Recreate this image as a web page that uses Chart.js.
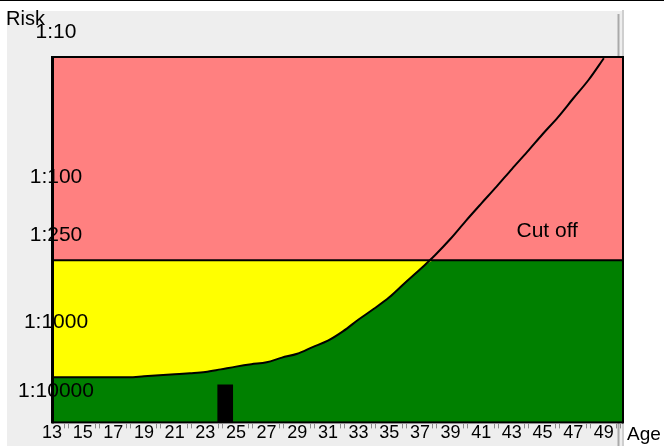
<!DOCTYPE html>
<html><head><meta charset="utf-8">
<script src="https://cdn.jsdelivr.net/npm/chart.js@4.4.0/dist/chart.umd.min.js"></script>
<style>html,body{margin:0;padding:0;background:#fff}#wrap{width:664px;height:446px;position:relative}</style>
</head><body><div id="wrap"><canvas id="c" width="664" height="446"></canvas></div>
<script>
// ---- data ----
const ages = [13,14,15,16,17,18,19,20,21,22,23,24,25,26,27,28,29,30,31,32,33,34,35,36,37,38,39,40,41,42,43,44,45,46,47,48,49];
const riskDenominators = [1600,1600,1600,1600,1600,1600,1575,1550,1525,1500,1470,1410,1350,1300,1260,1170,1100,990,895,770,640,540,450,360,290,230,178,134,102,78,59,45,34,26,19.3,14.4,10.2];
const cutoffRisk = 250;
const xTickLabels = ["13","15","17","19","21","23","25","27","29","31","33","35","37","39","41","43","45","47","49"];
const yTickValues = [10,100,250,1000,10000];
const yTickLabels = ["1:10","1:100","1:250","1:1000","1:10000"];
const patientAge = 24.3;
const patientMarkerRisk = 1800;
const axisAgeMin = 13, axisAgeMax = 50.25;
const axisRiskMin = 10, axisRiskMax = 3266;
const cutoffLabel = "Cut off";
const cutoffLabelAge = 43.3;

// ---- derived tables ----
const curvePts = ages.map((a,i)=>({x:a, y:riskDenominators[i]}));
const greenPts = ages.map((a,i)=>({x:a, y:Math.max(riskDenominators[i], cutoffRisk)}));
greenPts.push({x:axisAgeMax, y:cutoffRisk});
const cutoffPts = [{x:axisAgeMin, y:cutoffRisk},{x:axisAgeMax, y:cutoffRisk}];

const FONT = '"Liberation Sans", Arial, sans-serif';

const decor = {
  id:'decor',
  beforeDraw(chart){
    const ctx = chart.ctx; ctx.save();
    ctx.fillStyle='#ffffff'; ctx.fillRect(0,0,664,446);
    ctx.fillStyle='#eeeeee'; ctx.fillRect(7,11,617,435);
    ctx.fillStyle='#000000'; ctx.fillRect(0,0,664,1);
    ctx.fillStyle='#a9a9a9'; ctx.fillRect(617.5,14,2,432);
    ctx.fillStyle='#cfcfcf'; ctx.fillRect(622,10,2,436);
    ctx.restore();
  },
  afterDatasetsDraw(chart){
    const {ctx, chartArea:a, scales:{x,y}} = chart;
    ctx.save();
    ctx.fillStyle='#000';
    ctx.font = '21px ' + FONT;
    ctx.textAlign='center'; ctx.textBaseline='middle';
    yTickValues.forEach((v,i)=>{
      const py = Math.min(y.getPixelForValue(v) - 25, a.bottom - 31);
      ctx.fillText(yTickLabels[i], a.left + 4, py);
    });
    // plot frame
    ctx.fillRect(a.left-1, a.top-1, 3, a.bottom-a.top+2);
    ctx.fillRect(a.left, a.top-1, a.right-a.left, 2);
    ctx.fillRect(a.right-1, a.top-1, 2, a.bottom-a.top+2);
    ctx.fillRect(a.left, a.bottom-1, a.right-a.left, 2);
    // x tick marks (between labels)
    ctx.fillStyle = '#8c8c8c';
    x.ticks.forEach(t=>{
      if (t.label) return;
      const px = Math.round(x.getPixelForValue(t.value));
      ctx.fillRect(px-3, a.bottom+1, 1, 5);
      ctx.fillRect(px+1, a.bottom+1, 1, 5);
    });
    ctx.fillStyle='#000';
    // cut off label
    ctx.textAlign='left'; ctx.textBaseline='alphabetic';
    ctx.font = '21px ' + FONT;
    ctx.fillText(cutoffLabel, x.getPixelForValue(cutoffLabelAge), y.getPixelForValue(cutoffRisk) - 23);
    // axis titles
    ctx.font = '20px ' + FONT;
    ctx.fillText('Risk', 6, 25);
    ctx.font = '19px ' + FONT;
    ctx.fillText('Age', a.right + 4, 440);
    ctx.restore();
  }
};

new Chart(document.getElementById('c'), {
  type:'line',
  data:{
    datasets:[
      {label:'risk', data:curvePts, borderColor:'#000', borderWidth:2, pointRadius:0, fill:false, cubicInterpolationMode:'monotone', order:0},
      {type:'bar', label:'patient', data:[{x:patientAge, y:[patientMarkerRisk, axisRiskMax]}], backgroundColor:'#000', borderWidth:0, barThickness:15, order:1},
      {label:'cutoff', data:cutoffPts, borderColor:'#000', borderWidth:2, backgroundColor:'#ff8080', pointRadius:0, fill:'end', order:2},
      {label:'low', data:greenPts, borderWidth:0, borderColor:'rgba(0,0,0,0)', backgroundColor:'#008000', pointRadius:0, fill:'start', cubicInterpolationMode:'monotone', order:3},
      {label:'mid', data:cutoffPts, borderWidth:0, borderColor:'rgba(0,0,0,0)', backgroundColor:'#ffff00', pointRadius:0, fill:'start', order:4}
    ]
  },
  options:{
    responsive:false, animation:false,
    layout:{padding:{left:52, right:41, top:57, bottom:8}},
    plugins:{legend:{display:false}, tooltip:{enabled:false}},
    scales:{
      x:{type:'linear', min:axisAgeMin, max:axisAgeMax, offset:false,
         grid:{display:true, drawOnChartArea:false, drawTicks:true, tickLength:6, color:'rgba(0,0,0,0)'},
         border:{display:false},
         ticks:{stepSize:1, includeBounds:false, autoSkip:false, maxRotation:0, padding:-6, color:'#000',
                font:{size:18, family:FONT},
                callback:(v)=> xTickLabels.includes(String(v)) ? String(v) : ''}},
      y:{type:'logarithmic', display:false, min:axisRiskMin, max:axisRiskMax, reverse:true}
    }
  },
  plugins:[decor]
});
</script></body></html>
